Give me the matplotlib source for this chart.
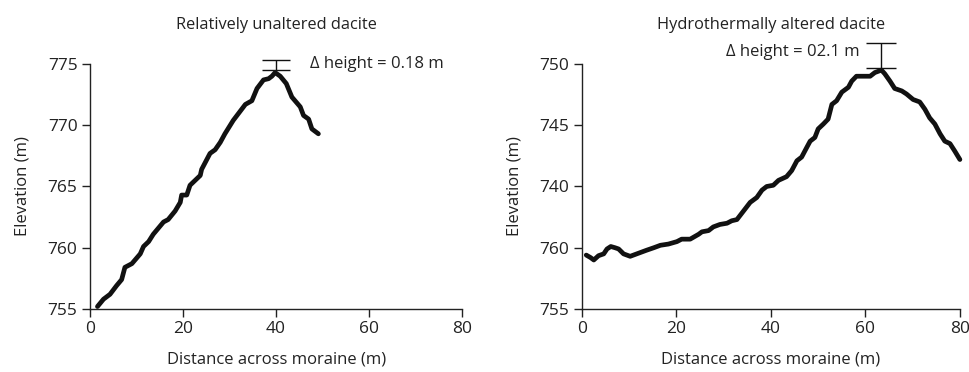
import matplotlib.pyplot as plt

plt.rcParams['font.family'] = ['Open Sans', 'DejaVu Sans']

# left profile: relatively unaltered dacite
left_x = [1.6, 2.9, 4.3, 5.7, 6.8, 7.5, 9.0, 10.8, 11.5, 12.6, 13.6, 15.8, 16.8,
          18.3, 19.4, 19.7, 20.8, 21.5, 23.7, 24.0, 25.8, 26.9, 28.0, 29.0, 30.8,
          33.4, 34.8, 35.9, 37.3, 38.4, 39.1, 39.8, 40.9, 42.2, 43.4, 45.2, 45.9,
          47.0, 47.7, 49.1]
left_y = [755.2, 755.8, 756.2, 756.9, 757.4, 758.4, 758.7, 759.5, 760.1, 760.5,
          761.1, 762.1, 762.3, 763.0, 763.7, 764.3, 764.3, 765.1, 765.9, 766.4,
          767.7, 768.0, 768.6, 769.3, 770.4, 771.7, 772.0, 773.0, 773.7, 773.8,
          774.0, 774.3, 774.0, 773.4, 772.3, 771.5, 770.8, 770.5, 769.7, 769.3]

# right profile: hydrothermally altered dacite
right_x = [0.9, 1.8, 2.5, 3.5, 4.6, 5.3, 6.1, 7.0, 7.75, 8.8, 10.2, 11.6, 13.7,
           15.2, 16.6, 18.3, 20.1, 21.1, 22.9, 24.7, 25.4, 26.8, 27.8, 29.2, 30.7,
           31.7, 32.8, 34.2, 35.6, 37.0, 38.1, 39.1, 40.5, 41.6, 43.3, 44.4, 45.5,
           46.5, 47.6, 48.3, 49.3, 50.0, 51.1, 52.1, 52.9, 53.9, 55.0, 56.4, 57.1,
           58.1, 59.5, 61.0, 62.0, 63.4, 64.1, 65.2, 66.2, 67.7, 68.7, 70.1, 71.5,
           72.6, 73.6, 74.7, 75.8, 76.8, 77.9, 78.9, 80.0]
right_y = [734.4, 734.2, 734.0, 734.35, 734.5, 734.9, 735.1, 735.0, 734.9, 734.5,
           734.3, 734.5, 734.8, 735.0, 735.2, 735.3, 735.5, 735.7, 735.7, 736.1,
           736.3, 736.4, 736.7, 736.9, 737.0, 737.2, 737.3, 738.0, 738.7, 739.1,
           739.7, 740.0, 740.1, 740.5, 740.8, 741.3, 742.1, 742.4, 743.2, 743.7,
           744.0, 744.7, 745.1, 745.5, 746.7, 747.0, 747.7, 748.1, 748.6, 749.0,
           749.0, 749.0, 749.3, 749.5, 749.2, 748.6, 748.0, 747.8, 747.55, 747.1,
           746.9, 746.3, 745.6, 745.1, 744.3, 743.7, 743.5, 742.9, 742.2]

x_ticks = [0, 20, 40, 60, 80]
left_yticks = [755, 760, 765, 770, 775]
right_yticks = [730, 735, 740, 745, 750]
right_yticklabels = ['755', '760', '740', '745', '750']

titles = ['Relatively unaltered dacite', 'Hydrothermally altered dacite']
notes = ['Δ height = 0.18 m', 'Δ height = 02.1 m']

fig = plt.figure(figsize=(9.69, 3.72), dpi=100)
ax1 = fig.add_axes([0.0929, 0.1694, 0.384, 0.6586])
ax2 = fig.add_axes([0.6006, 0.1694, 0.390, 0.6586])


def style(ax, title):
    for s in ['top', 'right']:
        ax.spines[s].set_visible(False)
    for s in ['left', 'bottom']:
        ax.spines[s].set_linewidth(1.0)
        ax.spines[s].set_color('#222222')
    ax.tick_params(direction='out', length=6, width=1.0, labelsize=12.5, pad=3,
                   colors='#222222')
    ax.set_xlim(0, 80)
    ax.set_xticks(x_ticks)
    ax.set_xlabel('Distance across moraine (m)', fontsize=12, labelpad=10, color='#222222')
    ax.set_ylabel('Elevation (m)', fontsize=12, labelpad=12, color='#222222')
    ax.set_title(title, fontsize=11.8, pad=25, color='#222222')
    for c in ax.get_children():
        c.set_clip_on(False)


ax1.plot(left_x, left_y, color='#111111', lw=3.4, solid_capstyle='round')
ax1.set_ylim(755, 775)
ax1.set_yticks(left_yticks)
ax1.errorbar([40], [774.9], yerr=[[0.4], [0.4]], fmt='none', ecolor='#111111',
             elinewidth=1, capsize=10, capthick=1)
ax1.text(47.3, 775.0, notes[0], fontsize=12, va='center', ha='left', color='#222222')
style(ax1, titles[0])

ax2.plot(right_x, right_y, color='#111111', lw=3.4, solid_capstyle='round')
ax2.set_ylim(730, 750)
ax2.set_yticks(right_yticks)
ax2.set_yticklabels(right_yticklabels)
ax2.errorbar([63.4], [750.7], yerr=[[1.0], [1.0]], fmt='none', ecolor='#111111',
             elinewidth=1, capsize=11, capthick=1)
ax2.text(58.8, 751.0, notes[1], fontsize=12, va='center', ha='right', color='#222222')
style(ax2, titles[1])

fig.savefig('out.png', dpi=100)
